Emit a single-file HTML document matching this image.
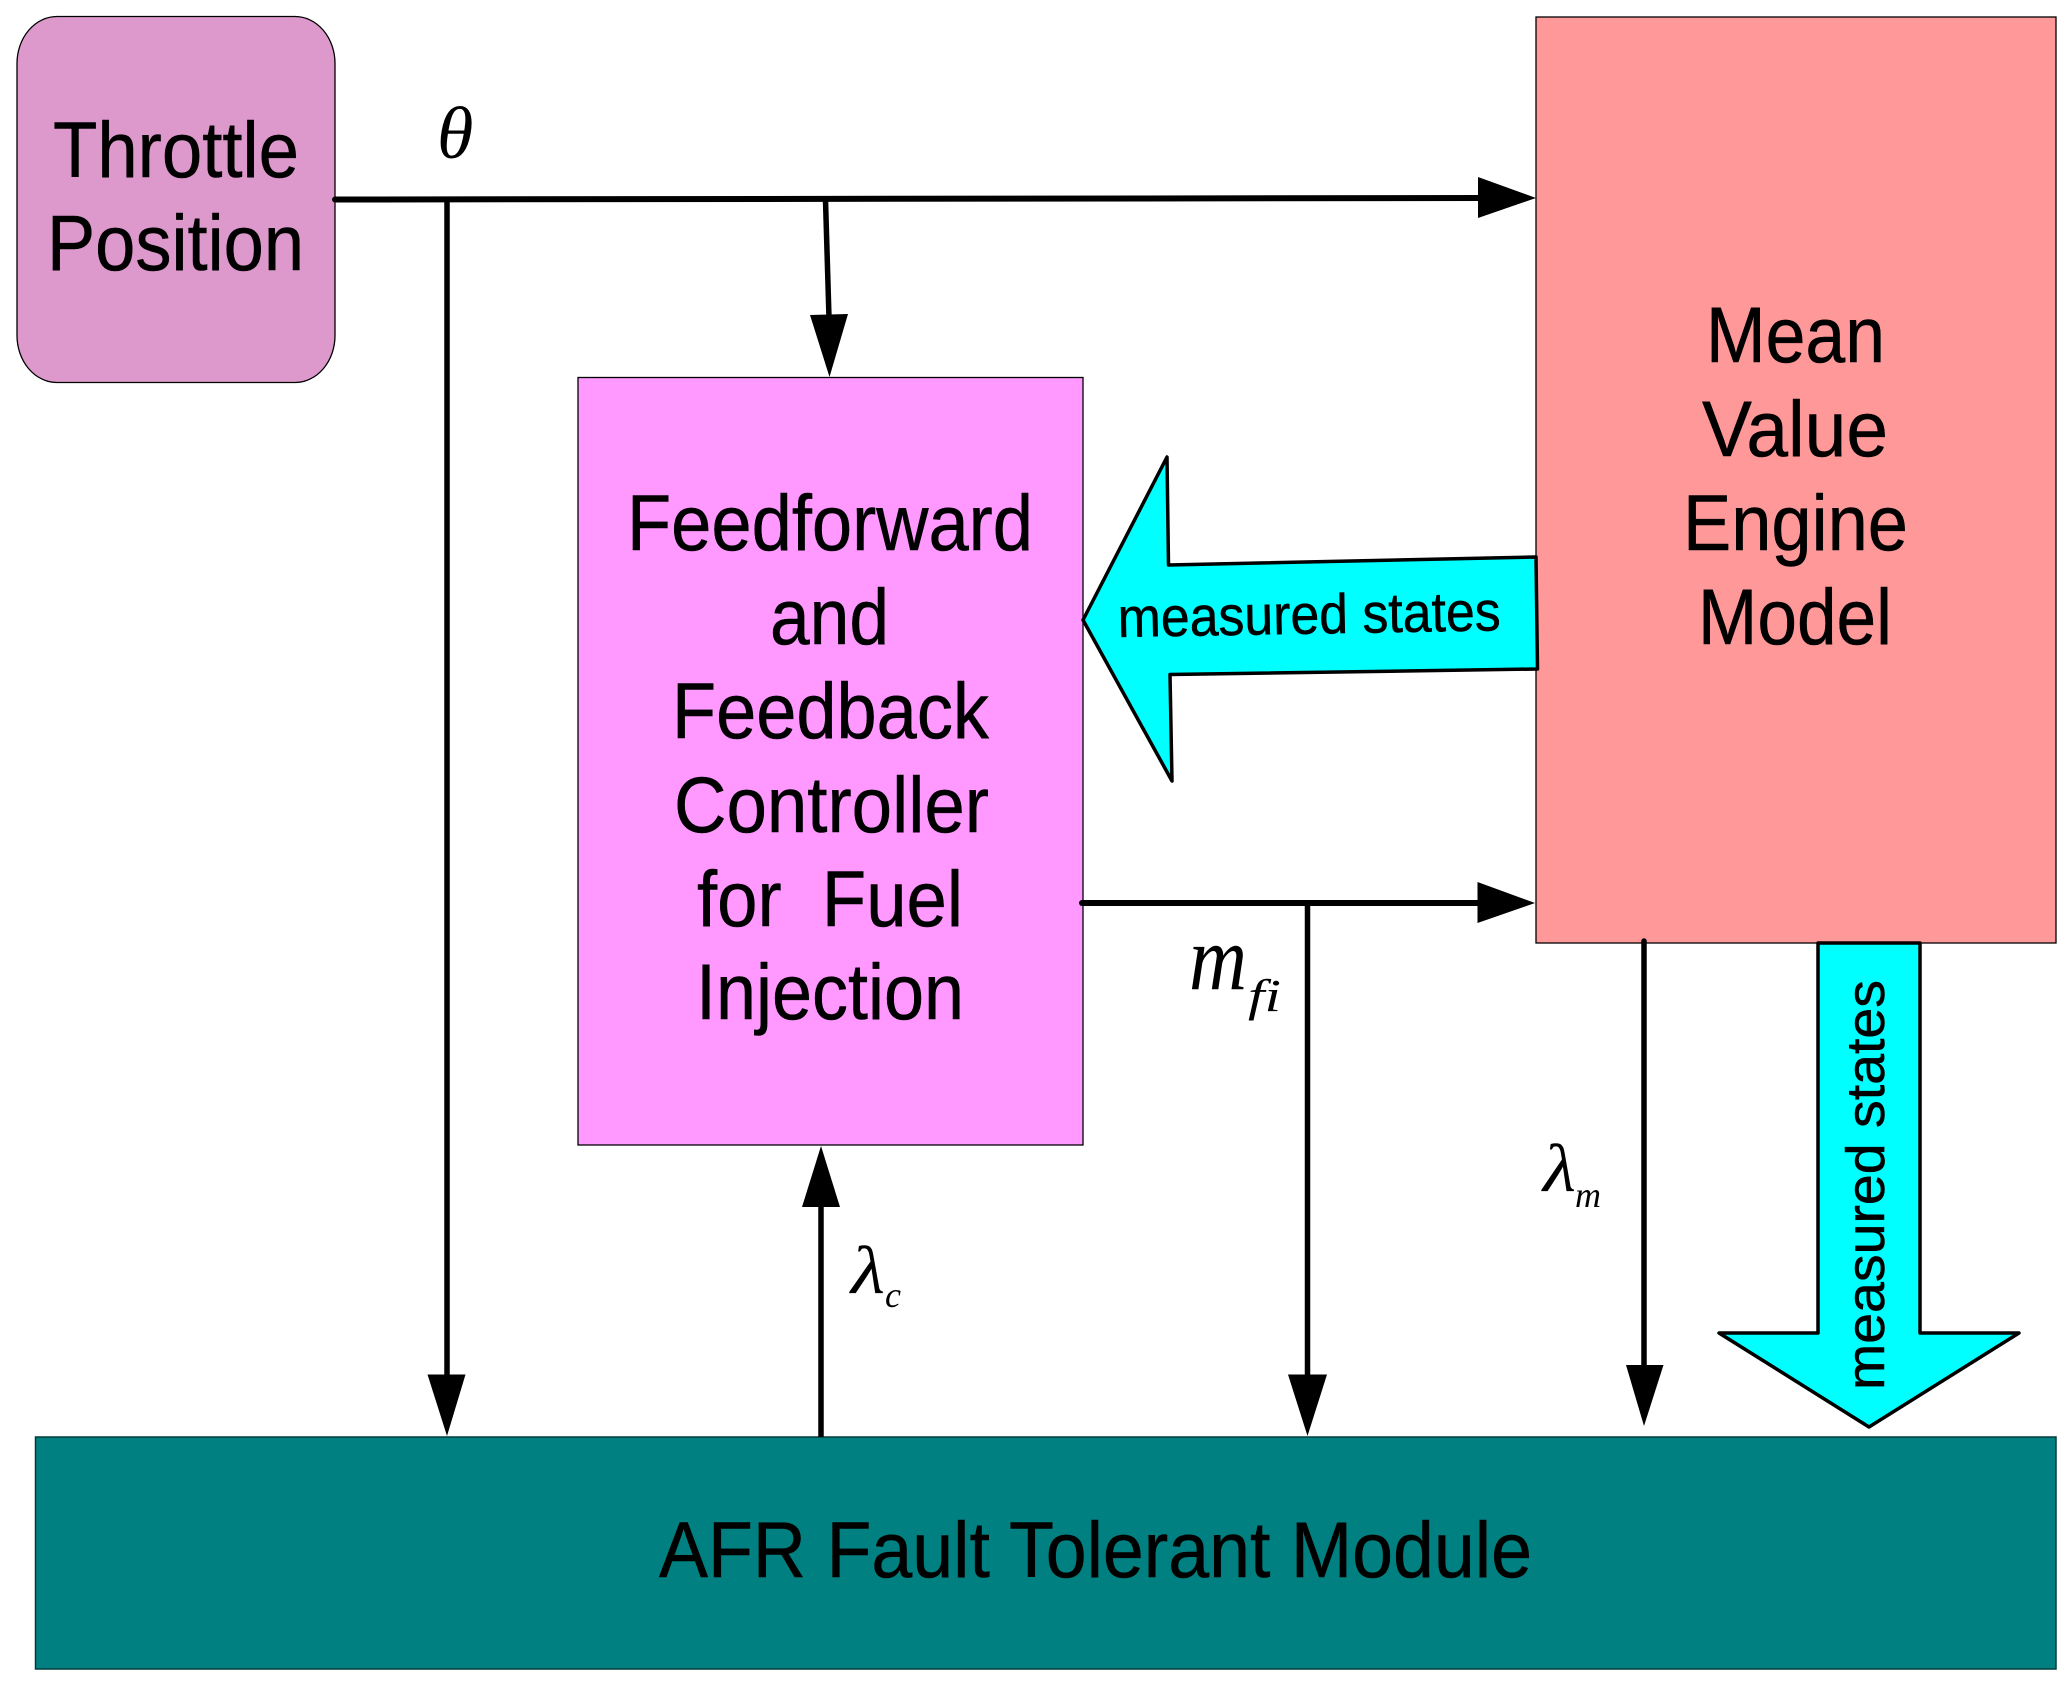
<!DOCTYPE html>
<html>
<head>
<meta charset="utf-8">
<style>
html,body{margin:0;padding:0;background:#fff;width:2070px;height:1688px;overflow:hidden}
svg{display:block}
text{font-family:"Liberation Sans",sans-serif;fill:#000}
.g{font-family:"Liberation Serif",serif;font-style:italic}
.b text{stroke:#000;stroke-width:.5}
</style>
</head>
<body>
<svg width="2070" height="1688" viewBox="0 0 2070 1688" xmlns="http://www.w3.org/2000/svg">
<rect width="2070" height="1688" fill="#fff"/>
<!-- boxes -->
<rect x="17" y="16.500" width="318" height="366" rx="40" ry="47" fill="#DD99CC" stroke="#000" stroke-width="1.300"/>
<rect x="578" y="377.500" width="505" height="767.500" fill="#FF99FF" stroke="#000" stroke-width="1.300"/>
<rect x="1536" y="17" width="520" height="926" fill="#FF9999" stroke="#000" stroke-width="1.300"/>
<rect x="35.500" y="1437" width="2020.500" height="232" fill="#008080" stroke="#003c3c" stroke-width="1.500"/>

<!-- block arrows -->
<polygon points="1083,620 1167,457 1168.500,565 1536,557 1537.500,669 1170,674.500 1172,781" fill="#00FFFF" stroke="#000" stroke-width="3.500" stroke-linejoin="round"/>
<polygon points="1818,943 1920,943 1920,1333 2019,1333 1869,1427 1719,1333 1818,1333" fill="#00FFFF" stroke="#000" stroke-width="3.500" stroke-linejoin="round"/>

<!-- connectors -->
<g stroke="#000" fill="none">
<path d="M335 199.500 L1480 198" stroke-width="6" stroke-linecap="round"/>
<path d="M447 200 L447 1380" stroke-width="5.500"/>
<path d="M825.500 200 L829 318" stroke-width="5.500"/>
<path d="M1082 903 L1480 903" stroke-width="6" stroke-linecap="round"/>
<path d="M1307.500 903 L1307.500 1380" stroke-width="5.500"/>
<path d="M821 1205 L821 1437" stroke-width="5.500"/>
<path d="M1644 941 L1644 1370" stroke-width="5.500" stroke-linecap="round"/>
</g>

<!-- arrowheads -->
<g fill="#000">
<polygon points="1478,177 1536,198 1478,218"/>
<polygon points="1477.500,882 1535,903 1477.500,923"/>
<polygon points="810,315 848,314 829.500,377"/>
<polygon points="427.500,1374.500 465.500,1374.500 447,1436"/>
<polygon points="1288,1374.500 1327,1374.500 1307.500,1436"/>
<polygon points="802,1207 840,1207 821,1146"/>
<polygon points="1626,1365 1663.500,1365 1644,1426"/>
</g>

<!-- labels -->
<g font-size="79" class="b">
<text x="53" y="177" textLength="246" lengthAdjust="spacingAndGlyphs">Throttle</text>
<text x="47" y="270" textLength="257" lengthAdjust="spacingAndGlyphs">Position</text>

<text x="627" y="550" textLength="406" lengthAdjust="spacingAndGlyphs">Feedforward</text>
<text x="770" y="644" textLength="119" lengthAdjust="spacingAndGlyphs">and</text>
<text x="672" y="738" textLength="317" lengthAdjust="spacingAndGlyphs">Feedback</text>
<text x="674" y="832" textLength="315" lengthAdjust="spacingAndGlyphs">Controller</text>
<text x="697" y="926" textLength="266" lengthAdjust="spacingAndGlyphs" xml:space="preserve">for  Fuel</text>
<text x="696" y="1019" textLength="268" lengthAdjust="spacingAndGlyphs">Injection</text>

<text x="1706" y="362" textLength="179" lengthAdjust="spacingAndGlyphs">Mean</text>
<text x="1702" y="456" textLength="186" lengthAdjust="spacingAndGlyphs">Value</text>
<text x="1683" y="550" textLength="225" lengthAdjust="spacingAndGlyphs">Engine</text>
<text x="1698" y="644" textLength="194" lengthAdjust="spacingAndGlyphs">Model</text>

<text x="659" y="1577" textLength="873" lengthAdjust="spacingAndGlyphs">AFR Fault Tolerant Module</text>
</g>

<g class="b">
<text font-size="56" transform="translate(1118 637) rotate(-1)" textLength="383" lengthAdjust="spacingAndGlyphs">measured states</text>
<text font-size="54" transform="translate(1884 1390) rotate(-90)" textLength="410" lengthAdjust="spacingAndGlyphs">measured states</text>
</g>

<!-- math -->
<text class="g" x="437" y="158" font-size="74">θ</text>
<text class="g" x="1189" y="989" font-size="92" textLength="58" lengthAdjust="spacingAndGlyphs">m</text>
<text class="g" x="1248" y="1011" font-size="46" textLength="33" lengthAdjust="spacingAndGlyphs">fi</text>
<text class="g" x="851" y="1293" font-size="68" textLength="34" lengthAdjust="spacingAndGlyphs">λ</text>
<text class="g" x="885" y="1307" font-size="36">c</text>
<text class="g" x="1543" y="1191" font-size="68" textLength="33" lengthAdjust="spacingAndGlyphs">λ</text>
<text class="g" x="1575" y="1207" font-size="36">m</text>
</svg>
</body>
</html>
